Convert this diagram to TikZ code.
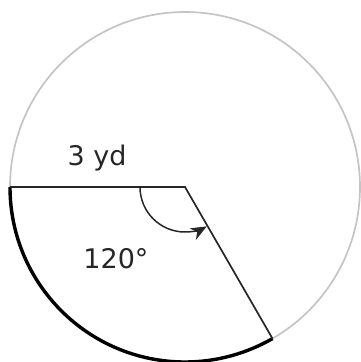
\documentclass[tikz,border=0pt]{standalone}
\usepackage{fontspec}
\setmainfont{DejaVu Sans}
\usetikzlibrary{arrows.meta,calc}
\definecolor{rim}{HTML}{C4C4C4}
\definecolor{ink}{HTML}{262626}
\tikzset{
  rimline/.style={draw=rim, line width=1.7pt},
  radline/.style={draw=ink, line width=1.7pt},
  arcline/.style={draw=black, line width=3.4pt},
  anglearc/.style={draw=ink, line width=1.5pt, -{Stealth[length=16pt,width=13pt,inset=5pt]}},
  lbl/.style={text=ink, font=\fontsize{27}{30}\selectfont, inner sep=0pt}
}
\begin{document}
\begin{tikzpicture}[x=1pt,y=1pt]
\useasboundingbox (0,0) rectangle (361,362);
\coordinate (O) at (185,175);
\coordinate (A) at ($(O)+(180:175)$);
\coordinate (B) at ($(O)+(300:175)$);
\draw[rimline] (O) circle[radius=175];
\draw[arcline] (A) arc[start angle=180, end angle=300, radius=175];
\draw[radline] (A) -- (O) -- (B);
\draw[anglearc] ($(O)+(180:45)$) arc[start angle=180, end angle=299, radius=45];
\node[lbl] (r) at (97,204) {3 yd};
\node[lbl] (ang) at (116,103) {120°};
\end{tikzpicture}
\end{document}
